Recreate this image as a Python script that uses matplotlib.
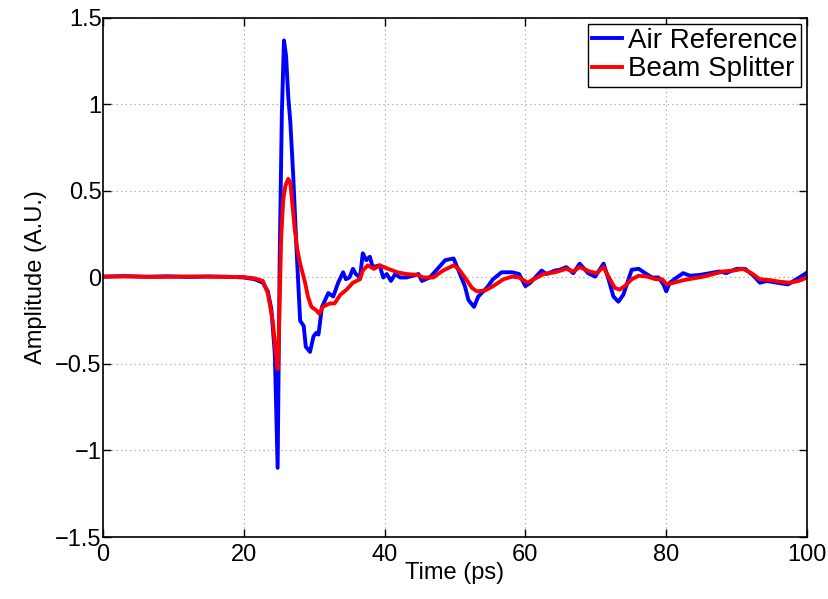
import matplotlib.pyplot as plt
from matplotlib.ticker import FuncFormatter

# Air reference trace (time in ps, amplitude in A.U.)
air_t = [0, 3, 6, 9, 12, 15, 18, 20, 21.5, 22.7, 23.4, 23.9, 24.4, 24.8, 25.1, 25.4,
         25.7, 26.0, 26.3, 26.6, 27.0, 27.5, 28.0, 28.5, 28.8, 29.4, 29.9, 30.3, 30.6,
         31.1, 32.0, 32.7, 33.4, 34.1, 34.5, 35.0, 35.5, 35.9, 36.5, 36.9, 37.4, 37.9,
         38.3, 39.3, 39.8, 40.3, 40.9, 41.5, 42.2, 43.1, 44.0, 44.8, 45.3, 46.4, 47.3,
         48.6, 49.8, 50.7, 51.4, 51.9, 52.7, 53.3, 54.5, 55.4, 56.6, 58.1, 59.1, 60.0,
         60.7, 62.3, 63.0, 64.2, 64.9, 65.8, 66.8, 67.7, 68.9, 69.9, 71.1, 71.8, 72.5,
         73.2, 73.9, 75.1, 76.1, 77.0, 78.0, 78.9, 79.6, 80.0, 80.5, 81.5, 82.4, 83.4,
         84.8, 86.2, 87.6, 88.5, 90.0, 91.2, 92.4, 93.3, 94.3, 95.7, 97.3, 98.5, 99.7, 100]
air_amp = [0.005, 0.008, 0.004, 0.007, 0.003, 0.006, 0.004, 0.0, -0.01, -0.03, -0.08, -0.18,
           -0.44, -1.10, 0.14, 0.95, 1.37, 1.28, 1.05, 0.90, 0.60, 0.15, -0.25, -0.28, -0.40,
           -0.43, -0.34, -0.32, -0.33, -0.17, -0.09, -0.11, -0.03, 0.03, -0.01, 0.0, 0.05,
           0.02, 0.0, 0.14, 0.10, 0.12, 0.06, 0.07, 0.0, 0.02, -0.02, 0.02, 0.0, 0.0, 0.01,
           0.02, -0.02, 0.0, 0.04, 0.10, 0.11, 0.02, -0.05, -0.13, -0.17, -0.11, -0.06,
           -0.01, 0.03, 0.03, 0.02, -0.05, -0.03, 0.04, 0.02, 0.04, 0.045, 0.06, 0.025,
           0.08, 0.025, 0.005, 0.08, -0.01, -0.11, -0.14, -0.10, 0.045, 0.05, 0.025, 0.0,
           0.0, -0.04, -0.08, -0.03, 0.0, 0.025, 0.01, 0.015, 0.025, 0.035, 0.025, 0.05,
           0.05, 0.01, -0.03, -0.02, -0.03, -0.04, -0.01, 0.02, 0.03]

# Beam splitter trace
bs_t = [0, 4, 8, 12, 16, 20, 21.5, 22.7, 23.4, 24.1, 24.5, 24.8, 25.0, 25.3, 25.6, 25.9,
        26.3, 26.6, 27.2, 27.6, 28.0, 28.7, 29.1, 29.6, 30.3, 30.7, 31.2, 32.2, 32.9, 33.7,
        34.6, 35.5, 36.5, 36.9, 37.6, 38.5, 39.3, 40.5, 41.8, 43.1, 44.6, 45.5, 46.9, 48.3,
        49.8, 50.5, 51.4, 52.4, 53.1, 54.3, 55.4, 56.9, 58.1, 59.1, 60.3, 61.2, 62.6, 64.2,
        65.8, 66.8, 67.7, 69.1, 70.1, 71.1, 72.0, 72.7, 73.4, 74.1, 75.1, 76.1, 77.3, 78.5,
        79.4, 80.1, 81.1, 82.5, 83.9, 85.3, 86.7, 88.1, 89.5, 90.9, 92.1, 93.3, 94.7, 96.2,
        97.6, 98.8, 100]
bs_amp = [0.005, 0.006, 0.003, 0.006, 0.004, 0.002, -0.005, -0.02, -0.09, -0.25, -0.42,
          -0.53, -0.30, 0.23, 0.45, 0.53, 0.57, 0.55, 0.29, 0.16, 0.08, -0.03, -0.11, -0.17,
          -0.19, -0.21, -0.17, -0.15, -0.15, -0.10, -0.07, -0.03, -0.01, 0.04, 0.07, 0.05,
          0.07, 0.05, 0.03, 0.02, 0.015, 0.0, 0.0, 0.04, 0.07, 0.05, 0.0, -0.06, -0.08,
          -0.075, -0.05, -0.01, 0.005, 0.0, -0.03, -0.01, 0.02, 0.03, 0.05, 0.035, 0.06,
          0.035, 0.025, 0.06, -0.01, -0.06, -0.07, -0.05, -0.01, 0.01, 0.005, -0.01, -0.01,
          -0.04, -0.03, -0.015, -0.005, 0.005, 0.02, 0.035, 0.04, 0.05, 0.025, -0.01,
          -0.015, -0.025, -0.03, -0.02, 0.0]

x_ticks = [0, 20, 40, 60, 80, 100]
y_ticks = [-1.5, -1, -0.5, 0, 0.5, 1, 1.5]

fonts = ['Liberation Sans', 'DejaVu Sans']

fig = plt.figure(figsize=(8.29, 5.99), dpi=100)
ax = fig.add_axes([0.1243, 0.1035, 0.8492, 0.8665])

ax.plot(air_t, air_amp, color='#0000ff', lw=2.8, label='Air Reference')
ax.plot(bs_t, bs_amp, color='#ff0000', lw=2.8, label='Beam Splitter')

ax.set_xlim(0, 100)
ax.set_ylim(-1.5, 1.5)
ax.set_xticks(x_ticks)
ax.set_yticks(y_ticks)
ax.yaxis.set_major_formatter(FuncFormatter(lambda v, p: ('%g' % v).replace('-', '\u2212')))
ax.grid(True, linestyle=(0, (1, 3)), color='#999999', lw=0.8)
ax.tick_params(direction='in', top=True, right=True, length=6, width=1, pad=1)
ax.tick_params(axis='x', pad=5)
for lab in ax.get_xticklabels() + ax.get_yticklabels():
    lab.set_family(fonts)
    lab.set_fontsize(17)
for s in ax.spines.values():
    s.set_linewidth(1.2)

ax.set_xlabel('Time (ps)', family=fonts, fontsize=17, labelpad=-3)
ax.set_ylabel('Amplitude (A.U.)', family=fonts, fontsize=17, labelpad=6)

leg = ax.legend(loc='upper right', prop={'family': fonts, 'size': 20},
                fancybox=False, framealpha=1, edgecolor='black',
                handlelength=1.1, handletextpad=0.2, borderpad=0.15,
                labelspacing=0.1, borderaxespad=0.2)
leg.get_frame().set_linewidth(1.0)

fig.savefig('out.png', dpi=100)
